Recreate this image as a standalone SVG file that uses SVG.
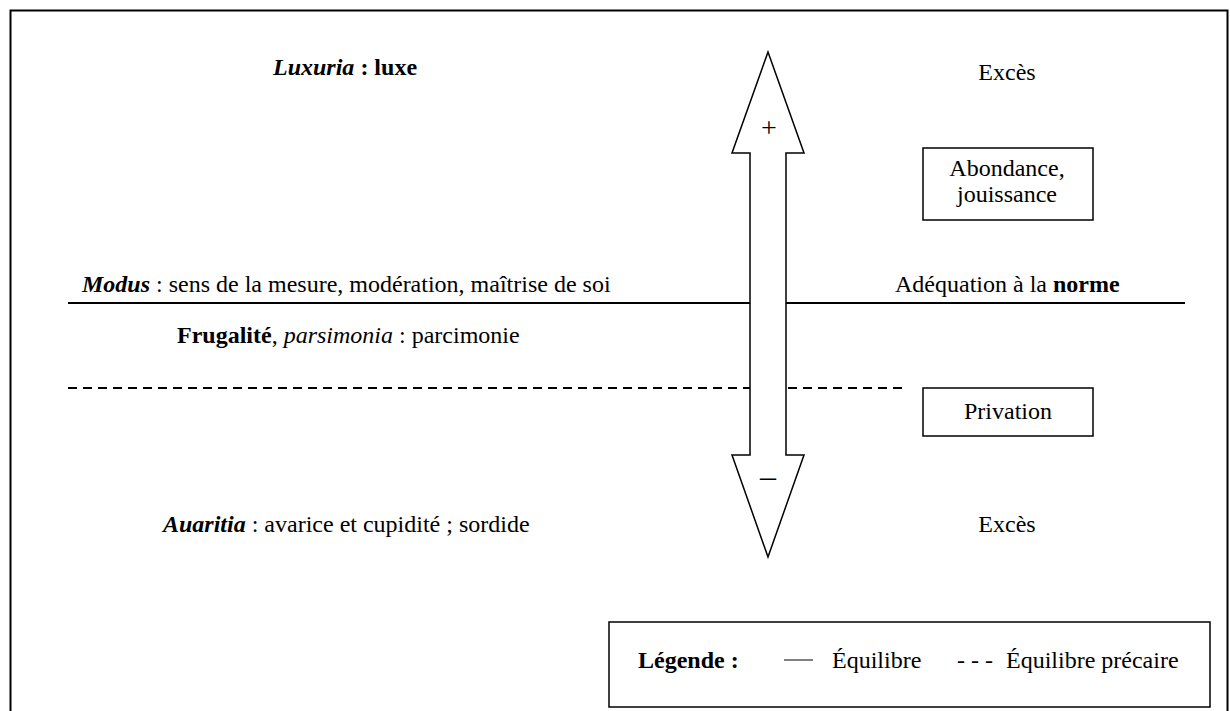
<svg xmlns="http://www.w3.org/2000/svg" width="1230" height="711" viewBox="0 0 1230 711">
<style>
text{font-family:'Liberation Serif','Times New Roman',serif;font-size:24px;fill:#000}
.b{font-weight:bold}.i{font-style:italic}
.box{fill:#fff;stroke:#000;stroke-width:1.5}
.ln{stroke:#000;stroke-width:2;fill:none}
.dash{stroke-dasharray:9 6}
</style>
<rect x="0" y="0" width="1230" height="711" fill="#fff"/>
<rect x="10.5" y="10.5" width="1217" height="720" fill="none" stroke="#000" stroke-width="2"/>
<g id="connectors">
<line class="ln" x1="68" y1="303" x2="1185" y2="303"/>
<line class="ln dash" x1="68" y1="388" x2="902" y2="388"/>
</g>
<g id="arrow">
<polygon points="768,52 804,153 786,153 786,455 804,455 768,557 732,455 750,455 750,153 732,153" fill="#fff" stroke="#000" stroke-width="1.5" stroke-linejoin="miter"/>
<text x="769" y="137" text-anchor="middle" style="font-size:28px">+</text>
<text x="768" y="487" text-anchor="middle" style="font-size:32px">–</text>
</g>
<g id="luxuria"><text x="273" y="75"><tspan class="b i">Luxuria</tspan><tspan class="b"> : luxe</tspan></text></g>
<g id="exces-top"><text x="1007" y="80" text-anchor="middle">Excès</text></g>
<g id="abondance">
<rect class="box" x="923" y="148" width="170" height="72"/>
<text x="1007" y="176" text-anchor="middle">Abondance,</text>
<text x="1007" y="202" text-anchor="middle">jouissance</text>
</g>
<g id="modus"><text x="82" y="292"><tspan class="b i">Modus</tspan> : sens de la mesure, modération, maîtrise de soi</text></g>
<g id="adequation"><text x="895" y="292">Adéquation à la <tspan class="b">norme</tspan></text></g>
<g id="frugalite"><text x="177" y="343"><tspan class="b">Frugalité</tspan>, <tspan class="i">parsimonia</tspan> : parcimonie</text></g>
<g id="privation">
<rect class="box" x="923" y="388" width="170" height="48"/>
<text x="1008" y="419" text-anchor="middle">Privation</text>
</g>
<g id="auaritia"><text x="163" y="532"><tspan class="b i">Auaritia</tspan> : avarice et cupidité ; sordide</text></g>
<g id="exces-bottom"><text x="1007" y="532" text-anchor="middle">Excès</text></g>
<g id="legend">
<rect class="box" x="609" y="622" width="601" height="85"/>
<text x="638" y="668" class="b">Légende :</text>
<line x1="784" y1="660" x2="813" y2="660" stroke="#000" stroke-width="1"/>
<text x="832" y="668">Équilibre</text>
<text x="957" y="668">- - -</text>
<text x="1006" y="668">Équilibre précaire</text>
</g>
</svg>
